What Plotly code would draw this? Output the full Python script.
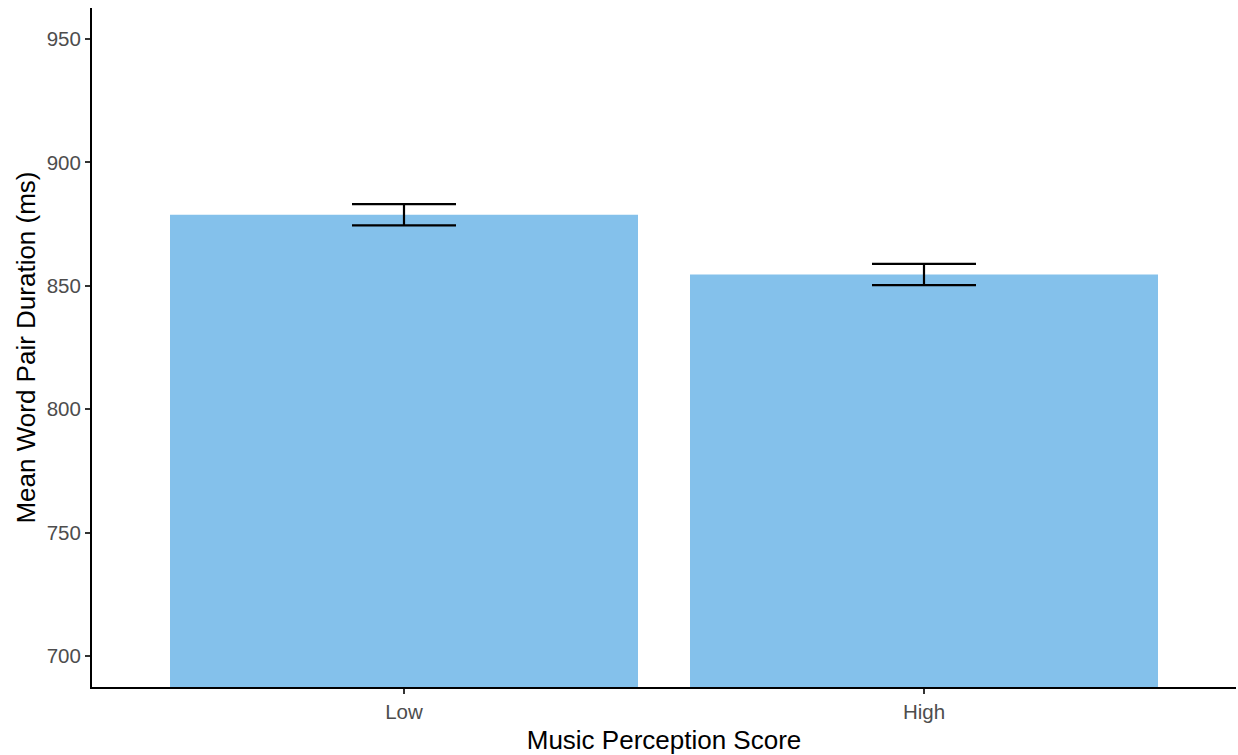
import plotly.graph_objects as go

# Mean word pair duration by music perception group
groups = ["Low", "High"]
mean_duration = [878.8, 854.6]
se_duration = [4.3, 4.3]
y_ticks = [700, 750, 800, 850, 900, 950]

FONT = "Liberation Sans, Arial, sans-serif"

fig = go.Figure(
    go.Bar(
        x=groups,
        y=mean_duration,
        marker=dict(color="#84C1EB", line=dict(width=0)),
        error_y=dict(
            type="data",
            array=se_duration,
            visible=True,
            color="black",
            thickness=2.2,
            width=52,
        ),
        hoverinfo="x+y",
    )
)

fig.update_layout(
    width=1238,
    height=755,
    margin=dict(l=92, r=2, t=8, b=68),
    paper_bgcolor="white",
    plot_bgcolor="white",
    bargap=0.1,
    showlegend=False,
    font=dict(family=FONT, color="black"),
)

fig.update_xaxes(
    type="category",
    range=[-0.6, 1.6],
    showline=True,
    linecolor="black",
    linewidth=2,
    showgrid=False,
    zeroline=False,
    ticks="outside",
    ticklen=5,
    tickwidth=1.5,
    tickcolor="#333333",
    tickfont=dict(family=FONT, size=20.5, color="#4D4D4D"),
    title=dict(text="Music Perception Score",
               font=dict(family=FONT, size=26, color="black"), standoff=10),
    automargin=False,
)

fig.update_yaxes(
    range=[687.5, 962.5],
    tickvals=y_ticks,
    showline=True,
    linecolor="black",
    linewidth=2,
    showgrid=False,
    zeroline=False,
    ticks="outside",
    ticklen=5,
    tickwidth=1.5,
    tickcolor="#333333",
    tickfont=dict(family=FONT, size=20.5, color="#4D4D4D"),
    title=dict(text="Mean Word Pair Duration (ms)",
               font=dict(family=FONT, size=26, color="black"), standoff=4),
    automargin=False,
)

fig.write_html("out.html")
